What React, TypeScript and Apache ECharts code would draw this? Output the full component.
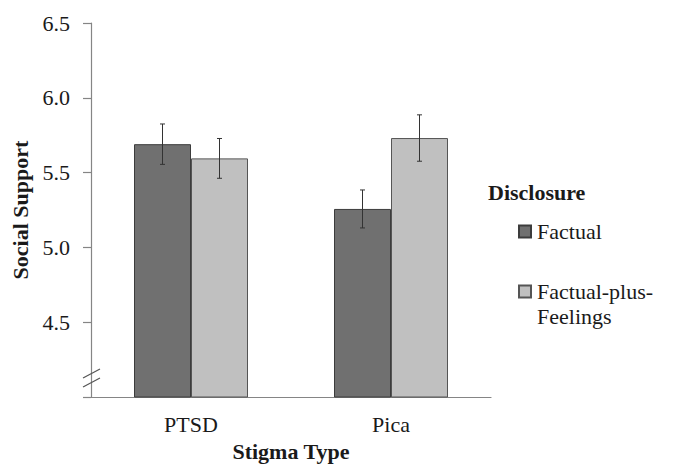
import React, { useEffect, useRef } from "react";
import * as echarts from "echarts";

const categories = ["PTSD", "Pica"];
const seriesNames = ["Factual", "Factual-plus-Feelings"];
const factualMeans = [5.69, 5.257];
const feelingsMeans = [5.595, 5.731];
const factualErrors = [0.135, 0.127];
const feelingsErrors = [0.133, 0.155];
const yTicks = [4.0, 4.5, 5.0, 5.5, 6.0, 6.5];

const FONT = "Liberation Serif";
const FS = 22;
const BAR_W = 57;
const TEXT = "#1a1a1a";
const AXIS = "#858585";

export default function App() {
  const ref = useRef<HTMLDivElement>(null);
  useEffect(() => {
    if (!ref.current) return;
    const chart = echarts.init(ref.current, undefined, { renderer: "svg" });

    const errorSeries = (means: number[], errs: number[], offset: number, name: string) => ({
      type: "custom",
      name: name + "-err",
      z: 10,
      silent: true,
      data: means.map((m, i) => [i, m - errs[i], m + errs[i]]),
      renderItem: (params: any, api: any) => {
        const i = api.value(0);
        const lo = api.coord([i, api.value(1)]);
        const hi = api.coord([i, api.value(2)]);
        const x = lo[0] + offset;
        const cap = 2.5;
        const style = { stroke: "#333333", lineWidth: 1 };
        return {
          type: "group",
          children: [
            { type: "line", shape: { x1: x, y1: lo[1], x2: x, y2: hi[1] }, style },
            { type: "line", shape: { x1: x - cap, y1: lo[1], x2: x + cap, y2: lo[1] }, style },
            { type: "line", shape: { x1: x - cap, y1: hi[1], x2: x + cap, y2: hi[1] }, style },
          ],
        };
      },
    });

    const regular = { fontFamily: FONT, fontSize: FS, fontWeight: "normal" as const, fontStyle: "normal" as const, color: TEXT };
    const bold = { fontFamily: FONT, fontSize: FS, fontWeight: "bold" as const, color: TEXT };

    chart.setOption({
      animation: false,
      textStyle: { fontFamily: FONT },
      title: {
        text: "Disclosure",
        left: 488,
        top: 181,
        padding: 0,
        textStyle: bold,
      },
      legend: {
        orient: "vertical",
        left: 518,
        top: 219,
        padding: 0,
        itemWidth: 12,
        itemHeight: 12,
        itemGap: 10,
        icon: "rect",
        data: seriesNames,
        formatter: (name: string) =>
          name === "Factual-plus-Feelings" ? " \nFactual-plus-\nFeelings" : name,
        textStyle: { ...regular, lineHeight: 25, padding: [0, 0, 0, 1] },
      },
      grid: { left: 91, right: 182, top: 23, bottom: 71 },
      xAxis: {
        type: "category",
        data: categories,
        name: "Stigma Type",
        nameLocation: "middle",
        nameGap: 43,
        nameTextStyle: bold,
        axisLine: { lineStyle: { color: AXIS, width: 1.2 } },
        axisTick: { show: false },
        axisLabel: { ...regular, margin: 16 },
      },
      yAxis: {
        type: "value",
        min: yTicks[0],
        max: yTicks[yTicks.length - 1],
        interval: 0.5,
        name: "Social Support",
        nameLocation: "middle",
        nameGap: 58,
        nameTextStyle: bold,
        axisLine: { show: true, lineStyle: { color: AXIS, width: 1.2 } },
        axisTick: { show: true, length: 8, lineStyle: { color: AXIS, width: 1.2 } },
        splitLine: { show: false },
        axisLabel: {
          ...regular,
          margin: 21,
          formatter: (v: number) => (Math.abs(v - yTicks[0]) < 1e-9 ? "" : v.toFixed(1)),
        },
      },
      graphic: [
        { type: "line", shape: { x1: 83, y1: 378, x2: 100, y2: 369 }, style: { stroke: "#555", lineWidth: 1.2 }, z: 100 },
        { type: "line", shape: { x1: 83, y1: 387, x2: 100, y2: 378 }, style: { stroke: "#555", lineWidth: 1.2 }, z: 100 },
      ],
      series: [
        {
          type: "bar",
          name: seriesNames[0],
          data: factualMeans,
          barWidth: BAR_W,
          barGap: "0%",
          itemStyle: { color: "#707070", borderColor: "#3c3c3c", borderWidth: 1 },
        },
        {
          type: "bar",
          name: seriesNames[1],
          data: feelingsMeans,
          barWidth: BAR_W,
          barGap: "0%",
          itemStyle: { color: "#c0c0c0", borderColor: "#555555", borderWidth: 1 },
        },
        errorSeries(factualMeans, factualErrors, -BAR_W / 2, seriesNames[0]),
        errorSeries(feelingsMeans, feelingsErrors, BAR_W / 2, seriesNames[1]),
      ],
    });
    return () => chart.dispose();
  }, []);
  return <div ref={ref} style={{ width: 673, height: 468, position: "absolute", left: 0, top: 0 }} />;
}
